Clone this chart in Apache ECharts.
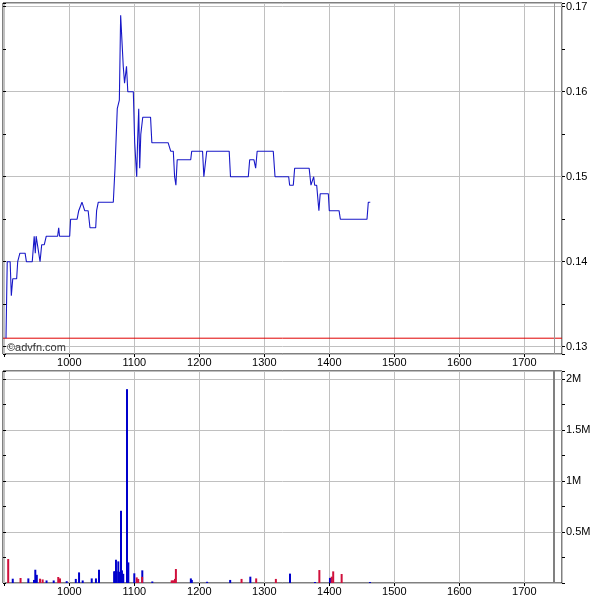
<!DOCTYPE html>
<html>
<head>
<meta charset="utf-8">
<script src="https://cdn.jsdelivr.net/npm/echarts@6/dist/echarts.min.js"></script>
<style>html,body{margin:0;padding:0;background:#fff}#c{width:600px;height:600px}</style>
</head>
<body>
<div id="c"></div>
<script>
// Price line vertices (x = trade index, y = price)
const priceX = [902.6,904.5,909,910.8,913,919,920.6,924,932,934,943,946,947.7,949,952,955,957.5,961.5,964.6,982,983.7,985,1000.6,1002,1012,1014.5,1019.5,1021.5,1023.7,1029,1031.8,1040.6,1042,1044.6,1067.7,1070.3,1073.8,1077,1079,1081,1083,1085,1087,1088,1090,1098.5,1100.6,1102,1103.7,1105,1106.8,1108.3,1110,1113,1125,1127,1152,1156,1160,1162,1164,1166,1186.8,1188.3,1205,1207,1209,1211.4,1246,1248,1275.4,1277.5,1284,1286.7,1289,1313.8,1316.5,1337.5,1339,1344.6,1346.7,1369,1371.8,1374.4,1376,1377.5,1380.6,1384,1386,1398.5,1400,1415,1417,1458,1460,1463];
const priceY = [0.131,0.140,0.140,0.136,0.138,0.138,0.140,0.141,0.141,0.140,0.140,0.143,0.141,0.143,0.143,0.140,0.142,0.142,0.143,0.143,0.144,0.143,0.143,0.145,0.145,0.146,0.147,0.147,0.146,0.146,0.144,0.144,0.146,0.147,0.147,0.151,0.158,0.159,0.169,0.169,0.163,0.161,0.161,0.163,0.160,0.160,0.154,0.154,0.150,0.154,0.158,0.151,0.155,0.157,0.157,0.154,0.154,0.153,0.153,0.150,0.149,0.152,0.152,0.153,0.153,0.150,0.150,0.153,0.153,0.150,0.150,0.152,0.152,0.151,0.153,0.153,0.150,0.150,0.149,0.149,0.151,0.151,0.149,0.149,0.150,0.149,0.149,0.146,0.148,0.148,0.146,0.146,0.145,0.145,0.147,0.147];
const refPrice = 0.131;
const markerX = 1746;

// Volume bars
const volBlueX = [913,937,945.7,947.7,950,965,976,996,1010,1015,1020.6,1034.5,1041,1045.7,1069,1070,1071.8,1073,1075.4,1077,1079.5,1081,1083,1088.8,1090.8,1100,1112.3,1127.7,1187,1188.5,1212,1247.5,1278.5,1339.5,1378,1401,1462.6];
const volBlueV = [42000,45000,30000,130000,80000,25000,25000,18000,40000,104000,25000,45000,45000,130000,114000,114000,228000,114000,212000,110000,708000,124000,90000,1900000,202000,95000,124000,15000,45000,30000,12000,30000,62000,92000,10000,50000,10000];
const volRedX = [906,925,955,959,983,985.7,1103.7,1106,1112,1157.5,1159,1161,1162.6,1164,1265,1287.5,1317.8,1384.7,1403.7,1406,1419];
const volRedV = [235000,49000,42000,35000,59000,45000,55000,40000,60000,25000,25000,25000,40000,137000,40000,45000,40000,127000,62000,114000,88000];

const xMin = 898, xMax = 1758;
const pMin = 0.129141, pMax = 0.170435;
const vMin = 0, vMax = 2078000;

const zip = (a, b) => a.map((v, i) => [v, b[i]]);

const FONT = 'Liberation Sans, Arial, sans-serif';
const gridLine = {show: true, lineStyle: {color: '#c0c0c0', width: 1}};

function xAxisCfg(gi) {
  return {
    gridIndex: gi, type: 'value', min: xMin, max: xMax, splitNumber: 8,
    axisLine: {show: false},
    axisTick: {show: true, length: 3, lineStyle: {color: '#000'}},
    axisLabel: {showMinLabel: false, showMaxLabel: false, fontSize: 11, color: '#000', fontFamily: FONT, margin: 3,
      formatter: v => (v < 950 ? '' : String(Math.round(v)))},
    splitLine: gridLine
  };
}

const option = {
  animation: false,
  backgroundColor: '#fff',
  grid: [
    {left: 3, right: 38, top: 3, height: 351, show: true, borderColor: '#000', borderWidth: 1, containLabel: false, outerBoundsMode: 'none'},
    {left: 3, right: 38, top: 371, height: 212, show: true, borderColor: '#000', borderWidth: 1, containLabel: false, outerBoundsMode: 'none'}
  ],
  xAxis: [xAxisCfg(0), xAxisCfg(1)],
  yAxis: [
    {
      gridIndex: 0, type: 'value', position: 'right', min: pMin, max: pMax, splitNumber: 4,
      axisLine: {show: false},
      axisTick: {show: true, length: 3, lineStyle: {color: '#000'}},
      minorTick: {show: true, splitNumber: 2, length: 3, lineStyle: {color: '#000'}},
      axisLabel: {showMinLabel: false, showMaxLabel: false, fontSize: 11, color: '#000', fontFamily: FONT, margin: 4,
        formatter: v => v.toFixed(2)},
      splitLine: gridLine
    },
    {
      gridIndex: 1, type: 'value', position: 'right', min: vMin, max: vMax, splitNumber: 4,
      axisLine: {show: false},
      axisTick: {show: true, length: 3, lineStyle: {color: '#000'}},
      minorTick: {show: true, splitNumber: 2, length: 3, lineStyle: {color: '#000'}},
      axisLabel: {showMinLabel: false, showMaxLabel: false, fontSize: 11, color: '#000', fontFamily: FONT, margin: 4,
        formatter: v => (v / 1e6) + 'M'},
      splitLine: gridLine
    },
    {
      gridIndex: 0, type: 'value', position: 'left', min: pMin, max: pMax, splitNumber: 4,
      axisLine: {show: false},
      axisTick: {show: true, inside: true, length: 3, lineStyle: {color: '#000'}},
      minorTick: {show: true, splitNumber: 2, length: 3, lineStyle: {color: '#000'}},
      axisLabel: {show: false}, splitLine: {show: false}
    },
    {
      gridIndex: 1, type: 'value', position: 'left', min: vMin, max: vMax, splitNumber: 4,
      axisLine: {show: false},
      axisTick: {show: true, inside: true, length: 3, lineStyle: {color: '#000'}},
      minorTick: {show: true, splitNumber: 2, length: 3, lineStyle: {color: '#000'}},
      axisLabel: {show: false}, splitLine: {show: false}
    }
  ],
  graphic: [
    {type: 'text', left: 7, top: 342, z: 100,
      style: {text: '©advfn.com', fill: '#333', font: '11px ' + FONT}}
  ],
  series: [
    {
      type: 'line', xAxisIndex: 0, yAxisIndex: 0,
      data: [[xMin, refPrice], [xMax, refPrice]], showSymbol: false, symbol: 'none',
      lineStyle: {color: '#e00000', width: 1}, silent: true, z: 3
    },
    {
      type: 'line', xAxisIndex: 0, yAxisIndex: 0,
      data: zip(priceX, priceY), showSymbol: false, symbol: 'none',
      lineStyle: {color: '#1818c8', width: 1.1},
      markLine: {
        silent: true, symbol: 'none', label: {show: false},
        data: [
          {xAxis: markerX, lineStyle: {color: '#999', width: 1, type: 'solid'}}
        ]
      },
      z: 5
    },
    {
      type: 'bar', xAxisIndex: 1, yAxisIndex: 1,
      data: zip(volBlueX, volBlueV), barWidth: 2, barGap: '-100%',
      itemStyle: {color: '#0000cc'},
      markLine: {
        silent: true, symbol: 'none', label: {show: false},
        data: [{xAxis: markerX, lineStyle: {color: '#808080', width: 2, type: 'solid'}}]
      }
    },
    {
      type: 'bar', xAxisIndex: 1, yAxisIndex: 1,
      data: zip(volRedX, volRedV), barWidth: 2, barGap: '-100%',
      itemStyle: {color: '#d0103c'}
    }
  ]
};

const chart = echarts.init(document.getElementById('c'), null, {renderer: 'canvas'});
chart.setOption(option);
</script>
</body>
</html>
